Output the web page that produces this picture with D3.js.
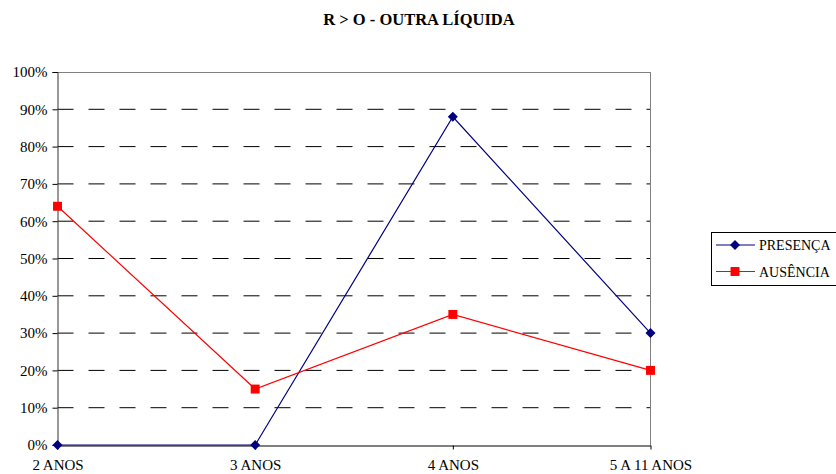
<!DOCTYPE html>
<html><head><meta charset="utf-8">
<script src="https://cdn.jsdelivr.net/npm/d3@7/dist/d3.min.js"></script>
<style>body{margin:0;background:#fff}svg{display:block}</style>
</head><body>
<svg id="c" width="836" height="474"></svg>
<script>
const categories = ["2 ANOS", "3 ANOS", "4 ANOS", "5 A 11 ANOS"];
const presenca = [0, 0, 88, 30];
const ausencia = [64, 15, 35, 20];
const yTicks = [0, 10, 20, 30, 40, 50, 60, 70, 80, 90, 100];
const seriesNames = ["PRESENÇA", "AUSÊNCIA"];
const title = "R > O - OUTRA LÍQUIDA";

const FONT = '"Liberation Serif", "Times New Roman", Times, serif';
const svg = d3.select("#c");
const L = 57.5, R = 650.5, T = 72, B = 445;
const x = d3.scalePoint().domain(categories).range([L, R]);
const y = d3.scaleLinear().domain([0, 100]).range([B, T]);

svg.append("text").attr("x", 419).attr("y", 25).attr("text-anchor", "middle")
  .style("font-family", FONT).style("font-weight", "bold").style("font-size", "16.5px").text(title);

// gridlines
svg.append("g").selectAll("line").data(yTicks.filter(d => d > 0 && d < 100)).join("line")
  .attr("x1", L).attr("x2", R).attr("y1", d => y(d)).attr("y2", d => y(d))
  .attr("stroke", "#000").attr("stroke-width", 1).attr("stroke-dasharray", "16,15");

// top & right border
svg.append("line").attr("x1", L).attr("x2", R).attr("y1", T + 0.5).attr("y2", T + 0.5).attr("stroke", "#808080");
svg.append("line").attr("x1", R).attr("x2", R).attr("y1", T).attr("y2", B).attr("stroke", "#808080");

// y axis
const yAxis = d3.axisLeft(y).tickValues(yTicks).tickFormat(d => d + "%").tickSize(5).tickPadding(5);
const gy = svg.append("g").attr("transform", `translate(${L},0)`).call(yAxis);
gy.select(".domain").attr("stroke", "#333");
gy.selectAll(".tick line").attr("stroke", "#000");
gy.selectAll("text").style("font-size", "15px").style("font-family", FONT).attr("fill", "#000");

// x axis
const xAxis = d3.axisBottom(x).tickSize(4).tickSizeOuter(0).tickPadding(10);
const gx = svg.append("g").attr("transform", `translate(0,${B + 0.5})`).call(xAxis);
gx.select(".domain").attr("stroke", "#000");
gx.selectAll("text").style("font-size", "15px").style("font-family", FONT).attr("fill", "#000");

const diamond = d3.symbol().type(d3.symbolSquare).size(50);
const square = d3.symbol().type(d3.symbolSquare).size(80);
const line = d3.line().x((d, i) => x(categories[i])).y(d => y(d));
function series(data, color, sym, rot) {
  svg.append("path").datum(data).attr("d", line).attr("fill", "none").attr("stroke", color).attr("stroke-width", 1.2);
  svg.append("g").selectAll("path").data(data).join("path")
    .attr("transform", (d, i) => `translate(${x(categories[i])},${y(d)}) rotate(${rot})`)
    .attr("d", sym).attr("fill", color);
}
series(presenca, "#000080", diamond, 45);
series(ausencia, "#ff0000", square, 0);

// legend
const lg = svg.append("g");
lg.append("rect").attr("x", 711.5).attr("y", 232.5).attr("width", 126).attr("height", 53)
  .attr("fill", "#fff").attr("stroke", "#000");
const colors = ["#000080", "#ff0000"], syms = [diamond, square], rots = [45, 0];
seriesNames.forEach((n, i) => {
  const yy = 245 + i * 26.5;
  lg.append("line").attr("x1", 716).attr("x2", 755).attr("y1", yy).attr("y2", yy).attr("stroke", colors[i]).attr("stroke-width", 1.2);
  lg.append("path").attr("transform", `translate(735,${yy}) rotate(${rots[i]})`).attr("d", syms[i]).attr("fill", colors[i]);
  lg.append("text").attr("x", 759).attr("y", yy + 5).style("font-size", "14px").style("font-family", FONT).text(n);
});
</script>
</body></html>
